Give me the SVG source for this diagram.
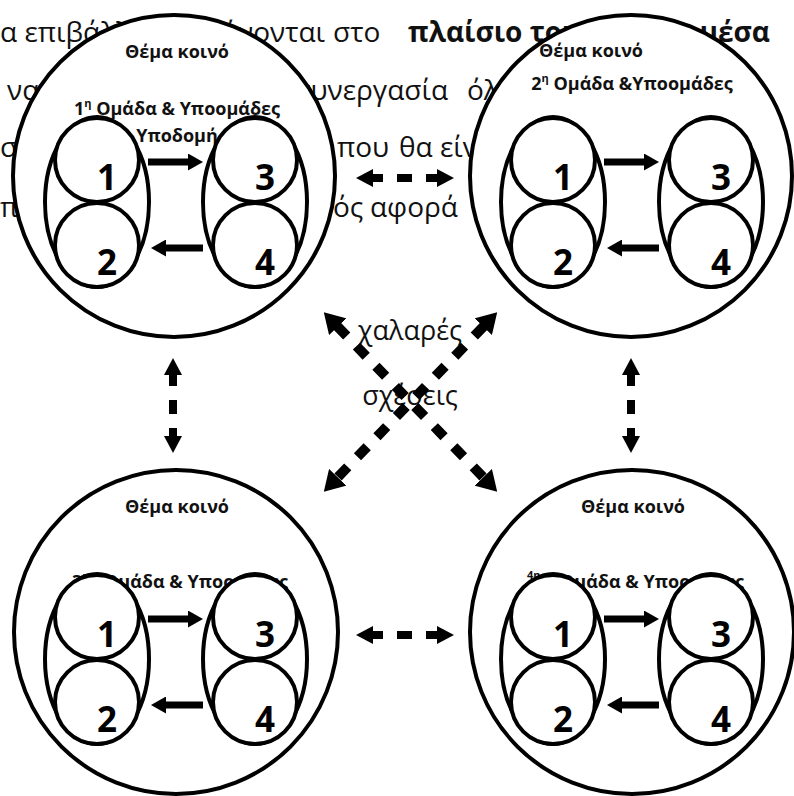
<svg xmlns="http://www.w3.org/2000/svg" width="794" height="796" viewBox="0 0 794 796">
<style>
.bg{font-family:"Open Sans","DejaVu Sans",sans-serif;font-size:28px;fill:#111}
.bgb{font-family:"Open Sans","DejaVu Sans",sans-serif;font-size:28px;font-weight:bold;fill:#111}
.big{fill:#fff;stroke:#000;stroke-width:4}
.in{fill:#fff;stroke:#000;stroke-width:4}
.lbl{font-family:"Open Sans","DejaVu Sans",sans-serif;font-weight:bold;font-size:18px;fill:#111}
.sup{font-size:11px}
.num{font-family:"Open Sans","DejaVu Sans",sans-serif;font-weight:bold;font-size:35px;text-anchor:middle;fill:#000}
.sa{stroke:#000;stroke-width:7;fill:none}
.da{stroke:#000;stroke-width:8;fill:none}
.dd{stroke:#000;stroke-width:10;fill:none;stroke-dasharray:14 14}
.rel{font-family:"Open Sans","DejaVu Sans",sans-serif;font-size:27px;fill:#111;text-anchor:middle}
</style>
<defs>
<marker id="sh" markerUnits="userSpaceOnUse" markerWidth="15" markerHeight="17" viewBox="0 0 15 17" refX="1" refY="8.5" orient="auto"><path d="M0,0 L15,8.5 L0,17z"/></marker>
<marker id="dh" markerUnits="userSpaceOnUse" markerWidth="17" markerHeight="18" viewBox="0 0 17 18" refX="1" refY="9" orient="auto-start-reverse"><path d="M0,0 L17,9 L0,18z"/></marker>
<marker id="dg" markerUnits="userSpaceOnUse" markerWidth="20" markerHeight="24" viewBox="0 0 20 24" refX="1" refY="12" orient="auto-start-reverse"><path d="M0,0 L20,12 L0,24z"/></marker>
</defs>

<g id="background-text">
<text class="bg" x="0" y="42">α επιβάλλ</text>
<text class="bg" x="325" y="42" text-anchor="end">ύνονται</text>
<text class="bg" x="333" y="42">στο</text>
<text class="bgb" x="408" y="42">πλαίσιο του</text>
<text class="bgb" x="770" y="42" text-anchor="end">μέσα</text>
<text class="bg" x="7" y="100">να</text>
<text class="bg" x="448" y="100" text-anchor="end">συνεργασία</text>
<text class="bg" x="467" y="100">όλ</text>
<text class="bg" x="0" y="157">σ</text>
<text class="bg" x="337" y="157">που</text>
<text class="bg" x="399" y="157">θα είν</text>
<text class="bg" x="0" y="217">π</text>
<text class="bg" x="333" y="217">ός</text>
<text class="bg" x="370" y="217">αφορά</text>
</g>

<g id="node1">
<circle class="big" cx="174" cy="176" r="161"/>
<text class="lbl" x="177" y="58" text-anchor="middle">Θέμα κοινό</text>
<text class="lbl" x="177" y="115" text-anchor="middle">1<tspan class="sup" dy="-8">η</tspan><tspan dy="8"> Ομάδα &amp; Υποομάδες</tspan></text>
<text class="lbl" x="177" y="142" text-anchor="middle">Υποδομή</text>
<g>
<ellipse class="in" cx="97" cy="202" rx="52" ry="85"/>
<ellipse class="in" cx="255" cy="202" rx="52" ry="85"/>
<circle class="in" cx="97" cy="160" r="42"/>
<circle class="in" cx="97" cy="245" r="42"/>
<circle class="in" cx="255" cy="160" r="42"/>
<circle class="in" cx="255" cy="245" r="42"/>
<text class="num" x="107" y="190">1</text>
<text class="num" x="107" y="275">2</text>
<text class="num" x="265" y="190">3</text>
<text class="num" x="265" y="275">4</text>
<line class="sa" x1="148" y1="162" x2="189" y2="162" marker-end="url(#sh)"/>
<line class="sa" x1="203" y1="248" x2="165" y2="248" marker-end="url(#sh)"/>
</g>
</g>

<g id="node2">
<circle class="big" cx="631" cy="176" r="161"/>
<text class="lbl" x="591" y="57" text-anchor="middle">Θέμα κοινό</text>
<text class="lbl" x="632" y="90" text-anchor="middle">2<tspan class="sup" dy="-8">η</tspan><tspan dy="8"> Ομάδα &amp;Υποομάδες</tspan></text>
<g transform="translate(456,0)">
<ellipse class="in" cx="97" cy="202" rx="52" ry="85"/>
<ellipse class="in" cx="255" cy="202" rx="52" ry="85"/>
<circle class="in" cx="97" cy="160" r="42"/>
<circle class="in" cx="97" cy="245" r="42"/>
<circle class="in" cx="255" cy="160" r="42"/>
<circle class="in" cx="255" cy="245" r="42"/>
<text class="num" x="107" y="190">1</text>
<text class="num" x="107" y="275">2</text>
<text class="num" x="265" y="190">3</text>
<text class="num" x="265" y="275">4</text>
<line class="sa" x1="148" y1="162" x2="189" y2="162" marker-end="url(#sh)"/>
<line class="sa" x1="203" y1="248" x2="165" y2="248" marker-end="url(#sh)"/>
</g>
</g>

<g id="node3">
<circle class="big" cx="176" cy="632" r="162"/>
<text class="lbl" x="177" y="513" text-anchor="middle">Θέμα κοινό</text>
<text class="lbl" x="72" y="588">3<tspan class="sup" dy="-8">η</tspan></text>
<text class="lbl" x="104" y="588">Ομάδα &amp; Υποομάδες</text>
<g transform="translate(0,457)">
<ellipse class="in" cx="97" cy="202" rx="52" ry="85"/>
<ellipse class="in" cx="255" cy="202" rx="52" ry="85"/>
<circle class="in" cx="97" cy="160" r="42"/>
<circle class="in" cx="97" cy="245" r="42"/>
<circle class="in" cx="255" cy="160" r="42"/>
<circle class="in" cx="255" cy="245" r="42"/>
<text class="num" x="107" y="190">1</text>
<text class="num" x="107" y="275">2</text>
<text class="num" x="265" y="190">3</text>
<text class="num" x="265" y="275">4</text>
<line class="sa" x1="148" y1="162" x2="189" y2="162" marker-end="url(#sh)"/>
<line class="sa" x1="203" y1="248" x2="165" y2="248" marker-end="url(#sh)"/>
</g>
</g>

<g id="node4">
<circle class="big" cx="632" cy="632" r="162"/>
<text class="lbl" x="633" y="513" text-anchor="middle">Θέμα κοινό</text>
<text class="lbl sup" x="527" y="579">4η</text>
<text class="lbl" x="560" y="588">Ομάδα &amp; Υποομάδες</text>
<g transform="translate(456,457)">
<ellipse class="in" cx="97" cy="202" rx="52" ry="85"/>
<ellipse class="in" cx="255" cy="202" rx="52" ry="85"/>
<circle class="in" cx="97" cy="160" r="42"/>
<circle class="in" cx="97" cy="245" r="42"/>
<circle class="in" cx="255" cy="160" r="42"/>
<circle class="in" cx="255" cy="245" r="42"/>
<text class="num" x="107" y="190">1</text>
<text class="num" x="107" y="275">2</text>
<text class="num" x="265" y="190">3</text>
<text class="num" x="265" y="275">4</text>
<line class="sa" x1="148" y1="162" x2="189" y2="162" marker-end="url(#sh)"/>
<line class="sa" x1="203" y1="248" x2="165" y2="248" marker-end="url(#sh)"/>
</g>
</g>

<g id="connectors">
<text class="rel" x="410" y="340">χαλαρές</text>
<text class="rel" x="410" y="405">σχέσεις</text>
<line class="da" x1="372" y1="178" x2="438" y2="178" stroke-dasharray="11 14 15 14 12" marker-start="url(#dh)" marker-end="url(#dh)"/>
<line class="da" x1="372" y1="635" x2="438" y2="635" stroke-dasharray="11 14 15 14 12" marker-start="url(#dh)" marker-end="url(#dh)"/>
<line class="da" x1="173" y1="374" x2="173" y2="437" stroke-dasharray="12 14 14 14 10" marker-start="url(#dh)" marker-end="url(#dh)"/>
<line class="da" x1="631" y1="374" x2="631" y2="437" stroke-dasharray="12 14 14 14 10" marker-start="url(#dh)" marker-end="url(#dh)"/>
<line class="dd" x1="337" y1="326" x2="484" y2="478" marker-start="url(#dg)" marker-end="url(#dg)"/>
<line class="dd" x1="484" y1="326" x2="337" y2="478" marker-start="url(#dg)" marker-end="url(#dg)"/>
</g>
</svg>
